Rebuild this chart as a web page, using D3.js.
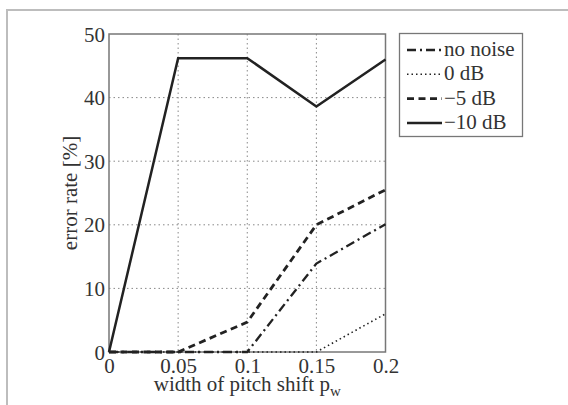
<!DOCTYPE html>
<html><head><meta charset="utf-8">
<script src="https://cdn.jsdelivr.net/npm/d3@7/dist/d3.min.js"></script>
<style>body{margin:0;background:#fff}svg{display:block}</style>
</head><body><svg id="c" width="568" height="405"></svg>
<script>
const xValues = [0, 0.05, 0.1, 0.15, 0.2];
const noNoise = [0, 0, 0, 13.9, 20.1];
const db0 = [0, 0, 0, 0, 6.0];
const dbMinus5 = [0, 0, 4.7, 20.0, 25.5];
const dbMinus10 = [0, 46.2, 46.2, 38.6, 46.0];
const xTicks = [0, 0.05, 0.1, 0.15, 0.2];
const yTicks = [0, 10, 20, 30, 40, 50];
const seriesNames = ["no noise", "0 dB", "\u22125 dB", "\u221210 dB"];

const FONT = "'Liberation Serif', 'Times New Roman', 'DejaVu Serif', serif";
const svg = d3.select("#c");
const L = 109, R = 385.5, T = 34, B = 352;
const x = d3.scaleLinear().domain([0, 0.2]).range([L, R]);
const y = d3.scaleLinear().domain([0, 50]).range([B, T]);

svg.append("path").attr("d", "M7,405 V10 H568").attr("fill", "none").attr("stroke", "#bdbdbd").attr("stroke-width", 2);

const g = svg.append("g");
g.selectAll(".gx").data(xTicks.slice(1, -1)).enter().append("line")
  .attr("x1", d => x(d)).attr("x2", d => x(d)).attr("y1", T).attr("y2", B)
  .attr("stroke", "#888").attr("stroke-width", 1).attr("stroke-dasharray", "1.5,3");
g.selectAll(".gy").data(yTicks.slice(1, -1)).enter().append("line")
  .attr("y1", d => y(d)).attr("y2", d => y(d)).attr("x1", L).attr("x2", R)
  .attr("stroke", "#888").attr("stroke-width", 1).attr("stroke-dasharray", "1.5,3");

const xAxis = d3.axisBottom(x).tickValues(xTicks).tickFormat(d => String(d)).tickSize(0).tickPadding(6);
const yAxis = d3.axisLeft(y).tickValues(yTicks).tickSize(0).tickPadding(4);
const ga = svg.append("g").attr("transform", `translate(0,${B})`).call(xAxis);
const gb = svg.append("g").attr("transform", `translate(${L},0)`).call(yAxis);
[ga, gb].forEach(a => {
  a.attr("font-family", FONT).attr("font-size", 21);
  a.select(".domain").remove();
  a.selectAll("text").style("font-family", FONT).style("font-size", "21px").attr("fill", "#333");
});
ga.selectAll("text").attr("dy", "0.72em");
gb.selectAll("text").attr("dy", "0.34em");

svg.append("rect").attr("x", L).attr("y", T).attr("width", R - L).attr("height", B - T)
  .attr("fill", "none").attr("stroke", "#777").attr("stroke-width", 1.5);

const styles = [
  {data: noNoise, dash: "9,4,2,4", w: 2.3},
  {data: db0, dash: "1.5,3", w: 1.6},
  {data: dbMinus5, dash: "7,4.5", w: 2.8},
  {data: dbMinus10, dash: null, w: 2.5}
];
const line = d3.line().x((d, i) => x(xValues[i])).y(d => y(d));
styles.forEach(s => {
  svg.append("path").attr("d", line(s.data)).attr("fill", "none").attr("stroke", "#222")
    .attr("stroke-width", s.w).attr("stroke-dasharray", s.dash);
});

svg.append("text").attr("x", (L + R) / 2).attr("y", 391).attr("text-anchor", "middle")
  .style("font-family", FONT).style("font-size", "21px").attr("fill", "#333")
  .html('width of pitch shift p<tspan dy="5" style="font-size:15px">w</tspan>');
svg.append("text").attr("transform", `translate(77,${(T + B) / 2}) rotate(-90)`).attr("text-anchor", "middle")
  .style("font-family", FONT).style("font-size", "21px").attr("fill", "#333").text("error rate [%]");

const lg = svg.append("g");
lg.append("rect").attr("x", 399.5).attr("y", 33.5).attr("width", 123).attr("height", 103)
  .attr("fill", "#fff").attr("stroke", "#777").attr("stroke-width", 1.3);
seriesNames.forEach((n, i) => {
  const by = 56 + i * 24.3;
  lg.append("line").attr("x1", 407).attr("x2", 442).attr("y1", by - 6).attr("y2", by - 6)
    .attr("stroke", "#222").attr("stroke-width", styles[i].w).attr("stroke-dasharray", styles[i].dash);
  lg.append("text").attr("x", 444).attr("y", by).style("font-family", FONT).style("font-size", "21px")
    .attr("fill", "#333").text(n);
});
</script></body></html>
